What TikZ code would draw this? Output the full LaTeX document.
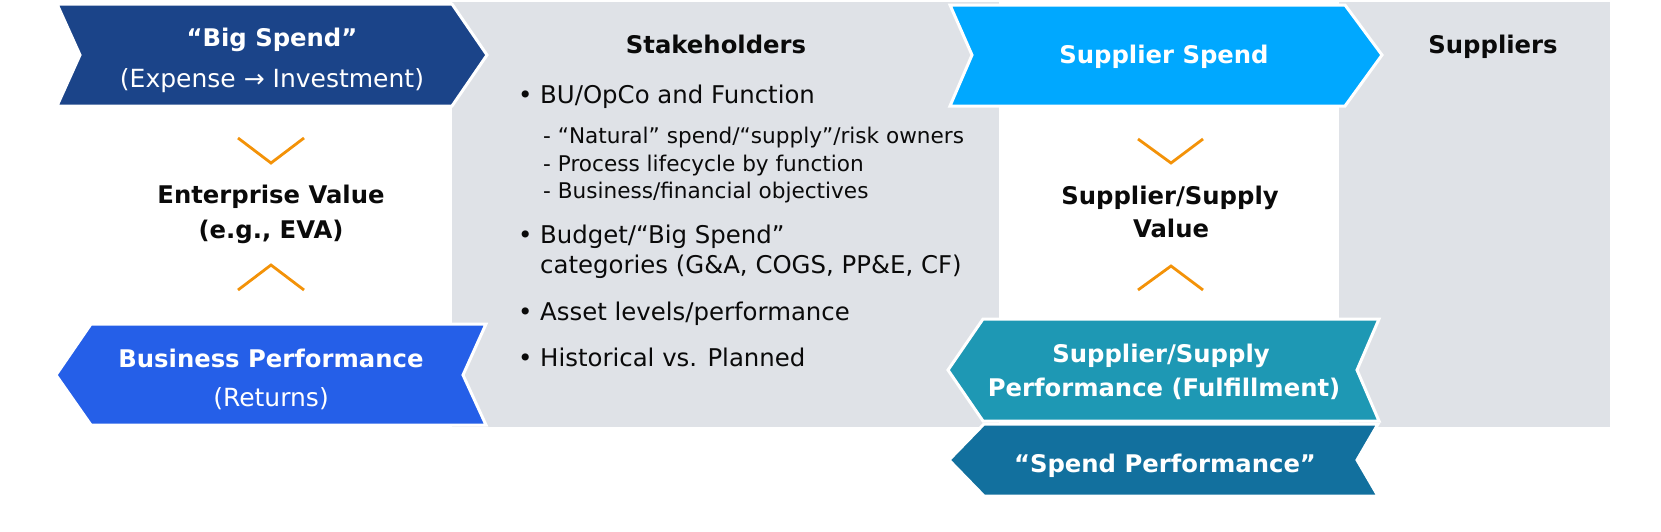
\documentclass[tikz,border=0pt]{standalone}
\usepackage{fontspec}
\setmainfont{DejaVu Sans}
\definecolor{bignavy}{HTML}{1B4489}
\definecolor{bizblue}{HTML}{255FE8}
\definecolor{supsky}{HTML}{00A8FF}
\definecolor{perfteal}{HTML}{1E98B4}
\definecolor{spendblue}{HTML}{12709E}
\definecolor{panelgray}{HTML}{DFE2E7}
\definecolor{veeorange}{HTML}{F39208}
\definecolor{ink}{HTML}{0A0A0A}
\tikzset{
  band/.style={draw=white, line width=3pt, line join=miter},
  hd/.style={anchor=base, inner sep=0pt, text=ink, font=\fontsize{24.3}{29}\selectfont\bfseries},
  hdw/.style={hd, text=white},
  subw/.style={anchor=base, inner sep=0pt, text=white, font=\fontsize{25}{30}\selectfont},
  item/.style={anchor=base west, inner sep=0pt, text=ink, font=\fontsize{24.4}{29}\selectfont},
  subitem/.style={anchor=base west, inner sep=0pt, text=ink, font=\fontsize{21.6}{26}\selectfont},
  vee/.style={draw=veeorange, line width=2.8pt}
}
\begin{document}
\begin{tikzpicture}[x=1pt,y=-1pt]
  \useasboundingbox (0,0) rectangle (1661,531);
  \fill[panelgray] (452,2) rectangle (999,427);
  \fill[panelgray] (1339,2) rectangle (1610,427);
  \filldraw[band, fill=bignavy]
    (57,4) -- (452,4) -- (487,55) -- (452,106) -- (57,106) -- (80,55) -- cycle;
  \filldraw[band, fill=bizblue]
    (91,324) -- (486,324) -- (463,375) -- (486,425) -- (91,425) -- (56,375) -- cycle;
  \filldraw[band, fill=supsky]
    (950,5) -- (1345,5) -- (1382,55) -- (1345,106) -- (950,106) -- (972,55) -- cycle;
  \filldraw[band, fill=perfteal]
    (983,319) -- (1379,319) -- (1357,370) -- (1379,421) -- (983,421) -- (948,370) -- cycle;
  \filldraw[band, fill=spendblue]
    (984,424) -- (1378,424) -- (1357,460) -- (1378,496) -- (984,496) -- (949,460) -- cycle;
  \draw[vee] (238,138) -- (271,163) -- (304,138);
  \draw[vee] (238,290) -- (271,265) -- (304,290);
  \draw[vee] (1138,139) -- (1171,163) -- (1203,139);
  \draw[vee] (1138,290) -- (1171,266) -- (1203,290);
  \node[hdw] (big1) at (272,46) {“Big Spend”};
  \node[subw] (big2) at (272,87) {(Expense → Investment)};
  \node[hd] (ev1) at (271,203) {Enterprise Value};
  \node[hd] (ev2) at (271,238) {(e.g., EVA)};
  \node[hdw] (bp1) at (271,367) {Business Performance};
  \node[subw] (bp2) at (271,406) {(Returns)};
  \node[hd] (stake) at (716,53) {Stakeholders};
  \node[item] (dot1) at (518,103) {•};
  \node[item] (it1) at (540,103) {BU/OpCo and Function};
  \node[subitem] (sub1) at (543,143) {- “Natural” spend/“supply”/risk owners};
  \node[subitem] (sub2) at (543,171) {- Process lifecycle by function};
  \node[subitem] (sub3) at (543,198) {- Business/financial objectives};
  \node[item] (dot2) at (518,243) {•};
  \node[item] (it2a) at (540,243) {Budget/“Big Spend”};
  \node[item] (it2b) at (540,273) {categories (G\&A, COGS, PP\&E, CF)};
  \node[item] (dot3) at (518,320) {•};
  \node[item] (it3) at (540,320) {Asset levels/performance};
  \node[item] (dot4) at (518,366) {•};
  \node[item] (it4) at (540,366) {Historical vs. Planned};
  \node[hdw] (ss) at (1164,63) {Supplier Spend};
  \node[hd] (sup) at (1493,53) {Suppliers};
  \node[hd] (sv1) at (1170,204) {Supplier/Supply};
  \node[hd] (sv2) at (1171,237) {Value};
  \node[hdw] (sp1) at (1161,362) {Supplier/Supply};
  \node[hdw] (sp2) at (1164,396) {Performance (Fulfillment)};
  \node[hdw] (spend) at (1165,472) {“Spend Performance”};
\end{tikzpicture}
\end{document}
